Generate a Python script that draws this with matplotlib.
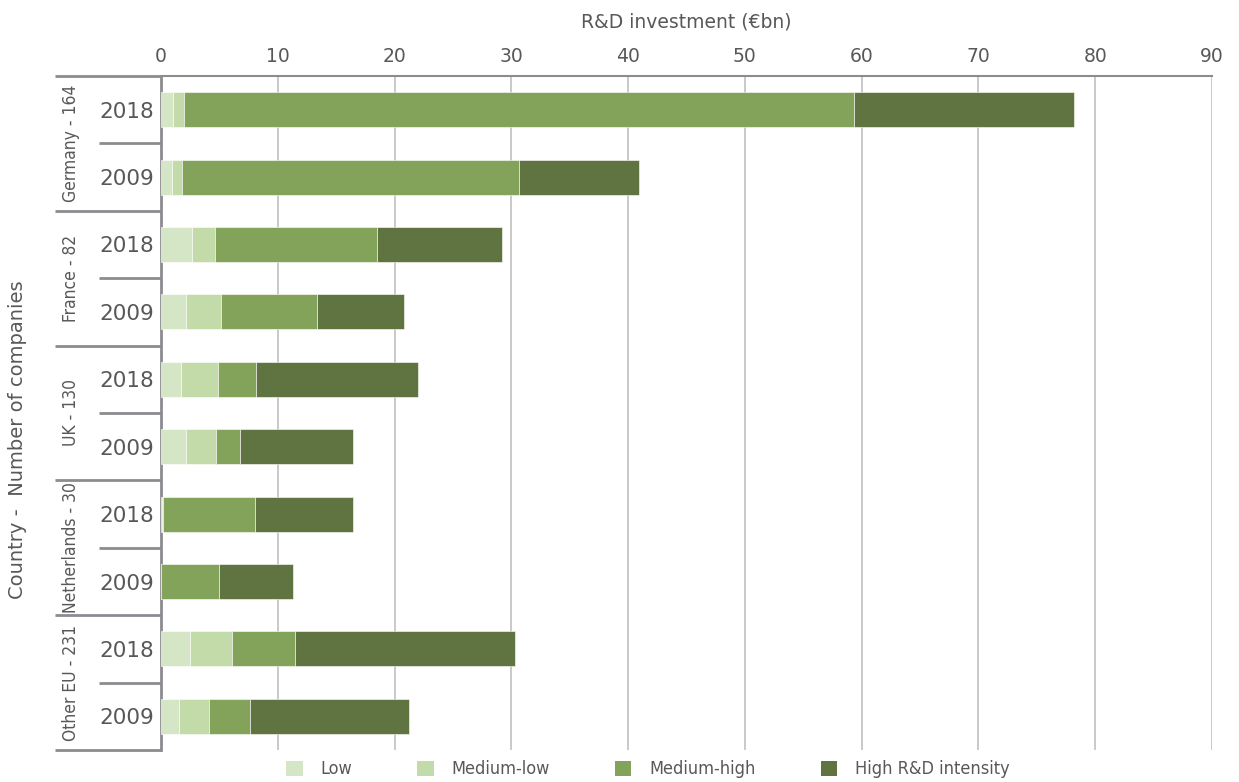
import matplotlib
matplotlib.use("Agg")
import matplotlib.pyplot as plt
from matplotlib.patches import Patch
import matplotlib.transforms as mtransforms

# ---- data ----
groups = ["Germany - 164", "France - 82", "UK - 130", "Netherlands - 30", "Other EU - 231"]
years = ["2018", "2009"]
series = ["Low", "Medium-low", "Medium-high", "High R&D intensity"]
# order: Germany 2018, Germany 2009, France 2018, France 2009, ...
low         = [1.05, 0.94, 2.65, 2.14, 1.71, 2.14, 0.10, 0.00, 2.48, 1.57]
medium_low  = [0.92, 0.89, 1.95, 2.96, 3.14, 2.56, 0.10, 0.00, 3.57, 2.51]
medium_high = [57.40, 28.80, 13.90, 8.30, 3.31, 2.10, 7.85, 5.00, 5.40, 3.54]
high        = [18.80, 10.30, 10.70, 7.40, 13.84, 9.60, 8.35, 6.30, 18.85, 13.58]
xticks = [0, 10, 20, 30, 40, 50, 60, 70, 80, 90]

colors = ["#d5e6c6", "#c3dba9", "#84a35a", "#5f7440"]
text_c = "#58585a"
line_c = "#8c8c90"
grid_c = "#c9c9c9"

W, H = 1239, 782
fig = plt.figure(figsize=(W / 100, H / 100), dpi=100)
fig.patch.set_facecolor("white")
L, R, T, B = 161, 1212, 76, 750
ax = fig.add_axes([L / W, 1 - B / H, (R - L) / W, (B - T) / H])

n = len(low)
ypos = list(range(n))
lefts = [0.0] * n
for vals, c, name in zip([low, medium_low, medium_high, high], colors, series):
    ax.barh(ypos, vals, left=lefts, height=0.52, color=c, edgecolor="#ffffff",
            linewidth=0.4, label=name, zorder=3)
    lefts = [a + b for a, b in zip(lefts, vals)]

ax.set_xlim(0, 90)
ax.set_ylim(n - 0.5, -0.5)
ax.set_xticks(xticks)
ax.xaxis.tick_top()
ax.tick_params(axis="x", length=0, pad=7, labelsize=13.5, colors=text_c)
ax.grid(axis="x", color=grid_c, linewidth=1.4, zorder=0)
ax.set_axisbelow(True)

year_labels = [years[i % 2] for i in range(n)]
ax.set_yticks(ypos)
ax.set_yticklabels(year_labels)
ax.tick_params(axis="y", length=0, pad=5, labelsize=15.5, colors=text_c)

for s in ["right", "bottom"]:
    ax.spines[s].set_visible(False)
ax.spines["left"].set_color(line_c)
ax.spines["left"].set_linewidth(2)
ax.spines["top"].set_color(line_c)
ax.spines["top"].set_linewidth(1.5)

ax.set_xlabel("R&D investment (€bn)", fontsize=13.5, color=text_c, labelpad=14)
ax.xaxis.set_label_position("top")

# left-hand category structure
trans = mtransforms.blended_transform_factory(ax.transAxes, ax.transData)
x_outer = (55 - L) / (R - L)
x_inner = (99 - L) / (R - L)
for g in range(len(groups) + 1):
    yb = 2 * g - 0.5
    ax.plot([x_outer, 0], [yb, yb], transform=trans, color=line_c, lw=2,
            clip_on=False, zorder=5, solid_capstyle="butt")
for g in range(len(groups)):
    ym = 2 * g + 0.5
    ax.plot([x_inner, 0], [ym, ym], transform=trans, color=line_c, lw=2,
            clip_on=False, zorder=5, solid_capstyle="butt")
    ax.text((71 - L) / (R - L), ym, groups[g], transform=trans, rotation=90,
            ha="center", va="center", fontsize=12.5, color=text_c,
            fontstretch="condensed")

fig.text(18 / W, 1 - 440 / H, "Country -  Number of companies", rotation=90,
         ha="center", va="center", fontsize=14, color=text_c)

handles = [Patch(facecolor=c, edgecolor="none") for c in colors]
leg = fig.legend(handles, series, loc="upper center", bbox_to_anchor=(648 / W, 1 - 746 / H),
                 ncol=4, frameon=False, handlelength=0.9, handleheight=0.9,
                 handletextpad=1.0, columnspacing=3.6, borderpad=0.3,
                 prop={"size": 13, "stretch": "condensed"})
for t in leg.get_texts():
    t.set_color(text_c)

fig.savefig("out.png", dpi=100)
